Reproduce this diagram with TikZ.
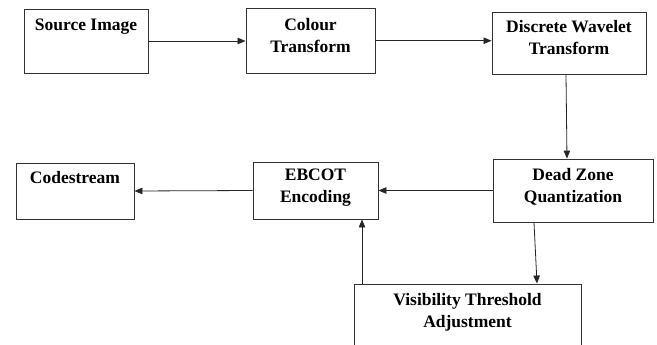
\documentclass[tikz,border=0pt]{standalone}
\usepackage{fontspec}
\setmainfont{Liberation Serif}
\usetikzlibrary{arrows.meta}
\begin{document}
\begin{tikzpicture}[x=1pt,y=-1pt,
  box/.style={draw=black!80, line width=0.9pt, inner sep=0pt},
  lbl/.style={anchor=base, align=center, inner sep=0pt,
    font=\fontsize{17.5}{22}\selectfont\bfseries},
  flow/.style={draw=black!85, line width=0.8pt, -{Triangle[length=8pt,width=6.5pt]}}]
\clip (0,0) rectangle (657,345);

% process boxes
\node[box, minimum width=124pt, minimum height=64pt] (src) at (86,41) {};
\node[box, minimum width=129pt, minimum height=64.5pt] (col) at (310.5,40.75) {};
\node[box, minimum width=154pt, minimum height=62pt] (dwt) at (569,43) {};
\node[box, minimum width=160pt, minimum height=63pt] (dzq) at (573,190.5) {};
\node[box, minimum width=125pt, minimum height=57pt] (ebc) at (315.5,190.5) {};
\node[box, minimum width=118pt, minimum height=56pt] (cod) at (75,191) {};
\node[box, minimum width=227pt, minimum height=70pt] (vta) at (467.5,319) {};

% labels near the top of each box (base = baseline of the last line)
\node[lbl] (tsrc) at ([yshift=-22pt]src.north) {Source Image};
\node[lbl] (tcol) at ([yshift=-44.5pt]col.north) {Colour\\Transform};
\node[lbl] (tdwt) at ([yshift=-43pt]dwt.north) {Discrete Wavelet\\Transform};
\node[lbl] (tdzq) at ([yshift=-44pt]dzq.north) {Dead Zone\\Quantization};
\node[lbl] (tebc) at ([yshift=-41pt]ebc.north) {EBCOT\\Encoding};
\node[lbl] (tcod) at ([yshift=-21pt]cod.north) {Codestream};
\node[lbl] (tvta) at ([yshift=-44pt]vta.north) {Visibility Threshold\\Adjustment};

% connectors
\draw[flow] (src.east) -- (src.east -| col.west);
\draw[flow] (col.east) -- (col.east -| dwt.west);
\draw[flow] ([xshift=-3pt]dwt.south) -- ([xshift=-6pt]dzq.north);
\draw[flow] (dzq.west) -- (ebc.east);
\draw[flow] (ebc.west) -- (cod.east);
\draw[flow] ([xshift=-39pt]dzq.south) -- ([xshift=69.5pt]vta.north);
\draw[flow] ([xshift=-105.5pt]vta.north) -- ([xshift=46.5pt]ebc.south);
\end{tikzpicture}
\end{document}
